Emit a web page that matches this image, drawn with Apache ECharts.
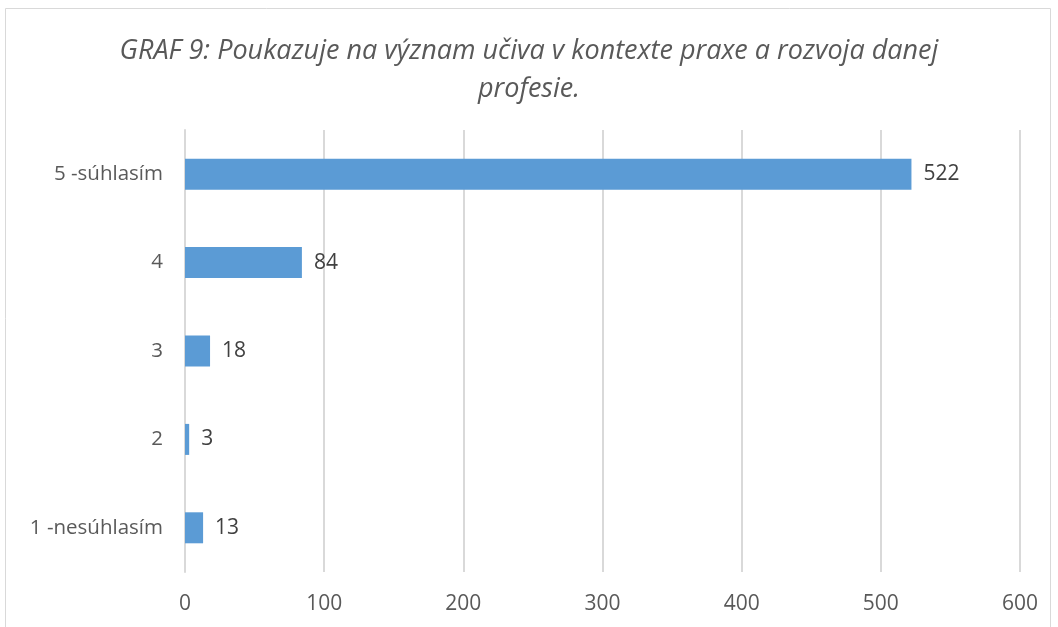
<!DOCTYPE html>
<html>
<head>
<meta charset="utf-8">
<script src="https://cdn.jsdelivr.net/npm/echarts@6/dist/echarts.min.js"></script>
<style>
  html, body { margin: 0; padding: 0; background: #fff; }
  #main { width: 1058px; height: 627px; }
</style>
</head>
<body>
<div id="main"></div>
<script>
// kategórie zdola nahor
var categories = ['1 -nesúhlasím', '2', '3', '4', '5 -súhlasím'];
var values = [13, 3, 18, 84, 522];
var titleText = 'GRAF 9: Poukazuje na význam učiva v kontexte praxe a rozvoja danej\nprofesie.';

var myChart = echarts.init(document.getElementById('main'));

var option = {
    animation: false,
    textStyle: { fontFamily: 'Open Sans' },
    title: {
        text: titleText,
        left: 'center',
        top: 27,
        textStyle: {
            fontFamily: 'Open Sans',
            fontSize: 27,
            fontStyle: 'italic',
            fontWeight: 'normal',
            color: '#595959',
            lineHeight: 38,
            align: 'center'
        }
    },
    graphic: [{
        type: 'rect',
        shape: { x: 5.5, y: 8.5, width: 1045, height: 640 },
        style: { fill: 'none', stroke: '#d9d9d9', lineWidth: 1 },
        silent: true
    }],
    grid: {
        left: 185,
        right: 38,
        top: 130,
        bottom: 55,
        containLabel: false
    },
    xAxis: {
        type: 'value',
        min: 0,
        max: 600,
        interval: 100,
        axisLine: { show: false },
        axisTick: { show: false },
        axisLabel: { color: '#595959', fontSize: 21, margin: 22 },
        splitLine: { lineStyle: { color: '#d9d9d9', width: 2 } }
    },
    yAxis: {
        type: 'category',
        data: categories,
        axisLine: { show: true, lineStyle: { color: '#d9d9d9', width: 2 } },
        axisTick: { show: false },
        axisLabel: { color: '#595959', fontSize: 20.5, margin: 22 }
    },
    series: [{
        type: 'bar',
        data: values,
        barWidth: 31,
        itemStyle: { color: '#5b9bd5' },
        label: {
            show: true,
            position: 'right',
            distance: 12,
            color: '#404040',
            fontSize: 21
        }
    }]
};

myChart.setOption(option);
</script>
</body>
</html>
